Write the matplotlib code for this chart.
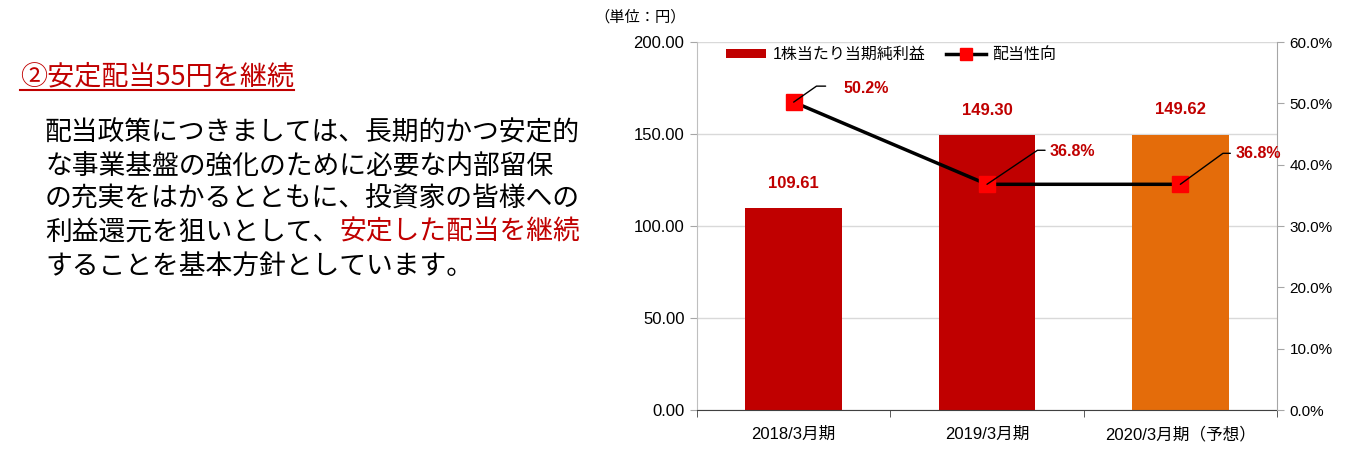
import matplotlib
matplotlib.use('Agg')
import matplotlib.pyplot as plt
from matplotlib.lines import Line2D
from matplotlib.patches import Patch

plt.rcParams['font.family'] = ['Liberation Sans', 'Noto Sans CJK JP', 'DejaVu Sans']

# data
periods = ['2018/3月期', '2019/3月期', '2020/3月期（予想）']
eps = [109.61, 149.30, 149.62]
payout = [50.2, 36.8, 36.8]
bar_colors = ['#c00000', '#c00000', '#e46c0a']
eps_ticks = [0, 50, 100, 150, 200]
payout_ticks = [0, 10, 20, 30, 40, 50, 60]

title_text = '②安定配当55円を継続'
body_lines = [
    '配当政策につきましては、長期的かつ安定的',
    'な事業基盤の強化のために必要な内部留保',
    'の充実をはかるとともに、投資家の皆様への',
    '利益還元を狙いとして、',
    'することを基本方針としています。',
]
body_red = '安定した配当を継続'

RED = '#c00000'
JP = ['Noto Sans CJK JP', 'DejaVu Sans']

fig = plt.figure(figsize=(13.47, 4.49), dpi=100)

# left text block
ax0 = fig.add_axes([0, 0, 1, 1])
ax0.axis('off')
ax0.set_xlim(0, 1347)
ax0.set_ylim(449, 0)

title = ax0.text(20, 77, title_text, color=RED, fontsize=19.5, family=JP,
                 ha='left', va='center')
line_y = [133, 166, 199, 232, 266]
body_art = []
for txt, y in zip(body_lines, line_y):
    body_art.append(ax0.text(45, y, txt, color='black', fontsize=19.3, family=JP,
                             ha='left', va='center'))
ax0.annotate(body_red, xy=(1, 0.5), xycoords=body_art[3], color=RED,
             fontsize=19.3, family=JP, ha='left', va='center')

ax0.text(640, 17, '（単位：円）', fontsize=11, family=JP, ha='center', va='center')

# chart
ax = fig.add_axes([697 / 1347, 1 - 410 / 449, 580 / 1347, 368 / 449])
x = list(range(len(periods)))
bars = ax.bar(x, eps, width=0.5, color=bar_colors, zorder=2)
ax.set_xlim(-0.5, 2.5)
ax.set_ylim(0, 200)
ax.set_yticks(eps_ticks)
ax.set_yticklabels([f'{v:.2f}' for v in eps_ticks], fontsize=12)
ax.set_xticks(x)
ax.set_xticklabels(periods, fontsize=12)
ax.set_xticks([-0.5, 0.5, 1.5, 2.5], minor=True)
ax.tick_params(axis='x', which='major', length=0, pad=12)
ax.tick_params(axis='x', which='minor', length=5, direction='out', color='#404040')
ax.tick_params(axis='y', length=5, color='#a6a6a6', pad=4)
ax.yaxis.grid(True, color='#d9d9d9', lw=1, zorder=0)
ax.set_axisbelow(True)
ax.spines['top'].set_visible(False)
ax.spines['right'].set_visible(False)
ax.spines['left'].set_color('#bfbfbf')
ax.spines['bottom'].set_color('#404040')

for xi, v in zip(x, eps):
    ax.annotate(f'{v:.2f}', xy=(xi, v), xytext=(0, 18), textcoords='offset points',
                ha='center', va='center', color=RED, fontsize=12, fontweight='bold')

ax2 = ax.twinx()
ax2.set_ylim(0, 60)
ax2.set_yticks(payout_ticks)
ax2.set_yticklabels([f'{v:.1f}%' for v in payout_ticks], fontsize=11)
ax2.tick_params(axis='y', length=5, color='#a6a6a6', pad=4)
for s in ['top', 'left', 'bottom']:
    ax2.spines[s].set_visible(False)
ax2.spines['right'].set_color('#a6a6a6')
ax2.plot(x, payout, color='black', lw=2.5, marker='s', markersize=11,
         markerfacecolor='#ff0000', markeredgecolor='#ff0000', zorder=3)

# leader lines and labels: (end of elbow offset, diagonal angle, label offset)
leaders = [((23, 11.5), 35, (36, 10)),
           ((41.8, 24.5), 34, (45.4, 23.8)),
           ((36, 22.3), 36, (39.6, 22.3))]
for xi, v, (end, ang, lab) in zip(x, payout, leaders):
    ax2.annotate('', xy=(xi, v), xytext=end, textcoords='offset points',
                 arrowprops=dict(arrowstyle='-', color='black', lw=1,
                                 shrinkA=0, shrinkB=0,
                                 connectionstyle=f'angle,angleA=0,angleB={ang},rad=0'))
    ax2.annotate(f'{v:.1f}%', xy=(xi, v), xytext=lab, textcoords='offset points',
                 ha='left', va='center', color=RED, fontsize=11.5, fontweight='bold')

handles = [Patch(facecolor=RED, edgecolor='none'),
           Line2D([], [], color='black', lw=2.5, marker='s', markersize=8,
                  markerfacecolor='#ff0000', markeredgecolor='#ff0000')]
ax2.legend(handles, ['1株当たり当期純利益', '配当性向'], loc='upper left',
           bbox_to_anchor=(0.045, 0.995), ncol=2, frameon=False,
           handlelength=2.5, handleheight=0.55, handletextpad=0.4,
           columnspacing=1.3, borderaxespad=0, borderpad=0.2,
           prop={'family': ['Liberation Sans', 'Noto Sans CJK JP'], 'size': 11.5})

# underline for the title
fig.canvas.draw()
bb = title.get_window_extent()
yline = bb.y0 + 1
fig.add_artist(Line2D([bb.x0 / 1347, bb.x1 / 1347], [yline / 449, yline / 449],
                      color=RED, lw=1.5))

fig.savefig('out.png', dpi=100)
